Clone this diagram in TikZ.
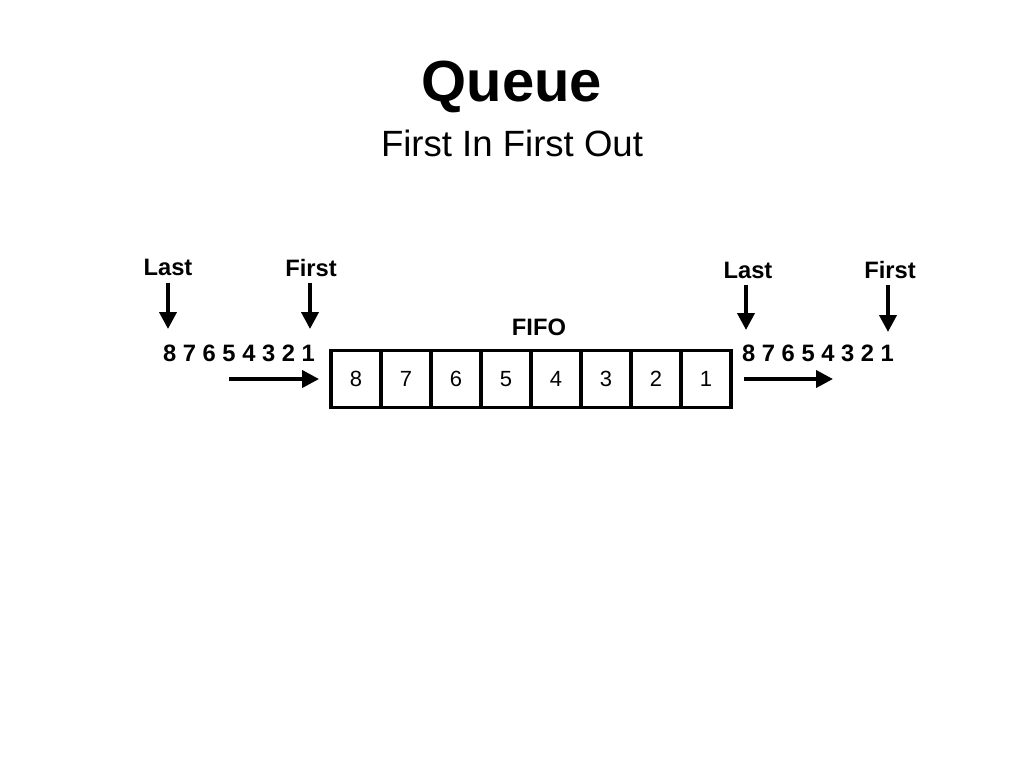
\documentclass[tikz,border=0pt]{standalone}
\usepackage{fontspec}
\setmainfont{Liberation Sans}
\usetikzlibrary{arrows.meta, positioning}

\begin{document}
\begin{tikzpicture}[
    x=0.02cm, y=-0.02cm,
    title/.style={font=\fontsize{33}{36}\selectfont\bfseries},
    subtitle/.style={font=\fontsize{20.8}{24}\selectfont},
    lbl/.style={font=\fontsize{13.5}{15}\selectfont\bfseries, inner sep=0pt},
    cell/.style={rectangle, draw, line width=2.2pt, minimum width=50*0.02cm, minimum height=57*0.02cm, inner sep=0pt, font=\fontsize{12.5}{14}\selectfont},
    arrow/.style={-{Triangle[length=0.34cm, width=0.34cm]}, line width=2.2pt}
]
    \useasboundingbox (0,0) rectangle (1024,768);

    \node[title] (queue) at (512,87) {Queue};
    \node[subtitle] (fifoout) at (512,143) {First In First Out};

    % queue cells
    \foreach \n [count=\i] in {8,7,6,5,4,3,2,1}
        \node[cell] (cell\i) at (306+50*\i,379) {\n};
    \node[lbl] (fifo) at (539,327) {FIFO};

    % input side
    \node[lbl] (lastin) at (168,267) {Last};
    \node[lbl] (firstin) at (311,268) {First};
    \node[lbl] (seqin) at (239,353) {8 7 6 5 4 3 2 1};
    \coordinate (lastintip) at (168,329);
    \coordinate (firstintip) at (310,329);
    \coordinate (pushfrom) at (229,379);
    \draw[arrow] ([yshift=-0.14cm]lastin.south -| lastintip) -- (lastintip);
    \draw[arrow] ([yshift=-0.12cm]firstin.south -| firstintip) -- (firstintip);
    \draw[arrow] (pushfrom) -- ([xshift=-0.2cm]cell1.west |- pushfrom);

    % output side
    \node[lbl] (lastout) at (748,270) {Last};
    \node[lbl] (firstout) at (890,270) {First};
    \node[lbl] (seqout) at (818,353) {8 7 6 5 4 3 2 1};
    \coordinate (lastouttip) at (746,330);
    \coordinate (firstouttip) at (888,332);
    \coordinate (popto) at (833,379);
    \draw[arrow] ([yshift=-0.12cm]lastout.south -| lastouttip) -- (lastouttip);
    \draw[arrow] ([yshift=-0.12cm]firstout.south -| firstouttip) -- (firstouttip);
    \draw[arrow] ([xshift=0.22cm]cell8.east |- popto) -- (popto);
\end{tikzpicture}
\end{document}
